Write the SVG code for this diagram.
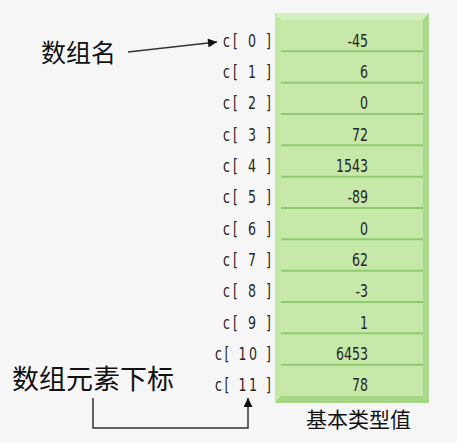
<svg xmlns="http://www.w3.org/2000/svg" width="457" height="443" viewBox="0 0 457 443">
<defs>
<style>
.idx,.val{font-family:"DejaVu Sans","Liberation Sans",sans-serif;font-size:18px;fill:#262626;text-anchor:end}
.cn{font-family:"Noto Sans CJK SC",sans-serif;fill:#111}
.sep{stroke:#8fcb6e;stroke-width:2}
.conn{stroke:#333;stroke-width:1.5;fill:none}
</style>
<marker id="ah" viewBox="0 0 10 10" refX="10" refY="5" markerWidth="12" markerHeight="9" markerUnits="userSpaceOnUse" orient="auto">
<path d="M0,0 L10,5 L0,10 z" fill="#111"/>
</marker>
</defs>
<rect width="457" height="443" fill="#f6f6f6"/>
<g id="array">
<rect x="275" y="13" width="154" height="390" fill="#b4e094"/>
<polygon points="275,13 429,13 423,20 281,20" fill="#d3f0bd"/>
<polygon points="275,13 281,20 281,396 275,403" fill="#c3e8a6"/>
<polygon points="429,13 423,20 423,396 429,403" fill="#a9d98a"/>
<polygon points="275,403 281,396 423,396 429,403" fill="#a6d686"/>
<rect x="281" y="20" width="142" height="376" fill="#c6e9a9"/>
<g class="seps">
<line class="sep" x1="281" y1="51.3" x2="423" y2="51.3"/>
<line class="sep" x1="281" y1="82.7" x2="423" y2="82.7"/>
<line class="sep" x1="281" y1="114" x2="423" y2="114"/>
<line class="sep" x1="281" y1="145.3" x2="423" y2="145.3"/>
<line class="sep" x1="281" y1="176.7" x2="423" y2="176.7"/>
<line class="sep" x1="281" y1="208" x2="423" y2="208"/>
<line class="sep" x1="281" y1="239.3" x2="423" y2="239.3"/>
<line class="sep" x1="281" y1="270.7" x2="423" y2="270.7"/>
<line class="sep" x1="281" y1="302" x2="423" y2="302"/>
<line class="sep" x1="281" y1="333.3" x2="423" y2="333.3"/>
<line class="sep" x1="281" y1="364.7" x2="423" y2="364.7"/>
</g>
</g>
<g id="cell0"><text class="idx" transform="translate(271,46.5) scale(0.7,1)" textLength="68.6" lengthAdjust="spacing">c[ 0 ]</text><text class="val" transform="translate(368,46.5) scale(0.7,1)">-45</text></g>
<g id="cell1"><text class="idx" transform="translate(271,77.8) scale(0.7,1)" textLength="68.6" lengthAdjust="spacing">c[ 1 ]</text><text class="val" transform="translate(368,77.8) scale(0.7,1)">6</text></g>
<g id="cell2"><text class="idx" transform="translate(271,109.2) scale(0.7,1)" textLength="68.6" lengthAdjust="spacing">c[ 2 ]</text><text class="val" transform="translate(368,109.2) scale(0.7,1)">0</text></g>
<g id="cell3"><text class="idx" transform="translate(271,140.5) scale(0.7,1)" textLength="68.6" lengthAdjust="spacing">c[ 3 ]</text><text class="val" transform="translate(368,140.5) scale(0.7,1)">72</text></g>
<g id="cell4"><text class="idx" transform="translate(271,171.8) scale(0.7,1)" textLength="68.6" lengthAdjust="spacing">c[ 4 ]</text><text class="val" transform="translate(368,171.8) scale(0.7,1)">1543</text></g>
<g id="cell5"><text class="idx" transform="translate(271,203.2) scale(0.7,1)" textLength="68.6" lengthAdjust="spacing">c[ 5 ]</text><text class="val" transform="translate(368,203.2) scale(0.7,1)">-89</text></g>
<g id="cell6"><text class="idx" transform="translate(271,234.5) scale(0.7,1)" textLength="68.6" lengthAdjust="spacing">c[ 6 ]</text><text class="val" transform="translate(368,234.5) scale(0.7,1)">0</text></g>
<g id="cell7"><text class="idx" transform="translate(271,265.8) scale(0.7,1)" textLength="68.6" lengthAdjust="spacing">c[ 7 ]</text><text class="val" transform="translate(368,265.8) scale(0.7,1)">62</text></g>
<g id="cell8"><text class="idx" transform="translate(271,297.2) scale(0.7,1)" textLength="68.6" lengthAdjust="spacing">c[ 8 ]</text><text class="val" transform="translate(368,297.2) scale(0.7,1)">-3</text></g>
<g id="cell9"><text class="idx" transform="translate(271,328.5) scale(0.7,1)" textLength="68.6" lengthAdjust="spacing">c[ 9 ]</text><text class="val" transform="translate(368,328.5) scale(0.7,1)">1</text></g>
<g id="cell10"><text class="idx" transform="translate(271,359.8) scale(0.7,1)" textLength="80" lengthAdjust="spacing">c[ 10 ]</text><text class="val" transform="translate(368,359.8) scale(0.7,1)">6453</text></g>
<g id="cell11"><text class="idx" transform="translate(271,391.2) scale(0.7,1)" textLength="80" lengthAdjust="spacing">c[ 11 ]</text><text class="val" transform="translate(368,391.2) scale(0.7,1)">78</text></g>
<g id="label-name"><text class="cn" x="41" y="62" font-size="25">数组名</text></g>
<g id="label-index"><text class="cn" x="12" y="389" font-size="27">数组元素下标</text></g>
<g id="label-type"><text class="cn" x="306" y="427" font-size="21">基本类型值</text></g>
<g id="connectors">
<line class="conn" x1="128" y1="52" x2="217" y2="42" marker-end="url(#ah)"/>
<polyline class="conn" points="93,398 93,428 248,428 248,398" marker-end="url(#ah)"/>
</g>
</svg>
